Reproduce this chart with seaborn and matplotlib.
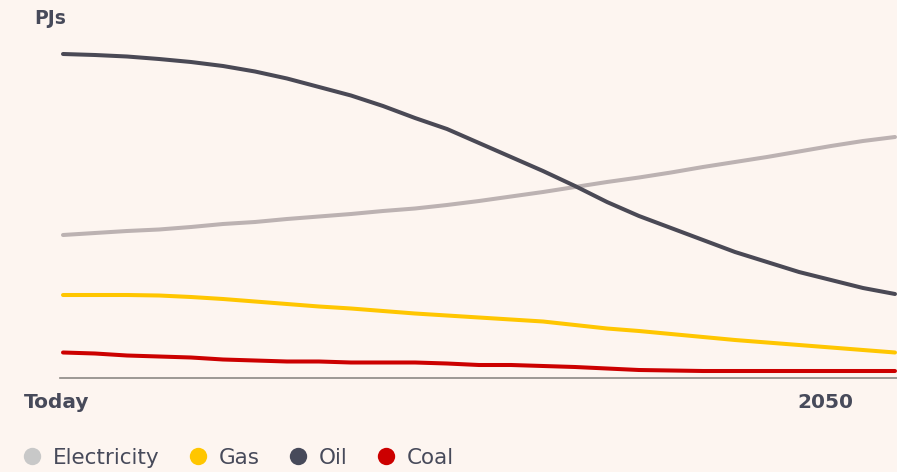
import matplotlib.pyplot as plt
import matplotlib.transforms as mtransforms
from matplotlib.lines import Line2D
import pandas as pd
import seaborn as sns

# years from today (2026) out to just past 2050
years = list(range(2026, 2053))

# energy demand, PJs
electricity = [1430, 1450, 1470, 1485, 1510, 1540, 1560, 1590, 1615, 1640, 1670, 1695, 1730,
               1770, 1815, 1860, 1910, 1960, 2005, 2055, 2110, 2160, 2210, 2265, 2320, 2370, 2410]
gas = [830, 830, 830, 825, 810, 790, 765, 740, 715, 695, 670, 645, 625,
       605, 585, 565, 530, 495, 470, 440, 410, 380, 355, 330, 305, 280, 255]
oil = [3240, 3230, 3215, 3190, 3160, 3120, 3065, 2995, 2910, 2825, 2720, 2600, 2490,
       2350, 2210, 2070, 1920, 1760, 1620, 1500, 1380, 1260, 1160, 1060, 980, 900, 840]
coal = [255, 245, 225, 215, 205, 185, 175, 165, 165, 155, 155, 155, 145,
        130, 130, 120, 110, 95, 80, 75, 70, 70, 70, 70, 70, 70, 70]

series = ["Electricity", "Gas", "Oil", "Coal"]
tick_years = [2026, 2050]
tick_labels = ["Today", "2050"]

line_colors = {"Electricity": "#BCB2B2", "Gas": "#FFC600", "Oil": "#4A4955", "Coal": "#CC0000"}
dot_colors = {"Electricity": "#C8C8C8", "Gas": "#FFC600", "Oil": "#474A5A", "Coal": "#CC0000"}
bg = "#FDF5F0"
text_col = "#474A5A"

df = pd.DataFrame({
    "year": years * 4,
    "PJ": electricity + gas + oil + coal,
    "source": [s for s in series for _ in years],
})

sns.set_theme(style="white")
plt.rcParams["font.family"] = ["DejaVu Sans"]

fig = plt.figure(figsize=(8.97, 4.72), dpi=100, facecolor=bg)
ax = fig.add_axes([60 / 897, 94 / 472, 837 / 897, 348 / 472], facecolor=bg)

sns.lineplot(data=df, x="year", y="PJ", hue="source", hue_order=series,
             palette=line_colors, linewidth=2.9, ax=ax, legend=False)
for ln in ax.get_lines():
    ln.set_solid_capstyle("round")

ax.set_xlim(2026 - 3 / 32, 2052 + 2 / 32)
ax.set_ylim(0, 3480)
ax.set_xlabel("")
ax.set_ylabel("")
ax.set_yticks([])
ax.set_xticks(tick_years)
ax.set_xticklabels(tick_labels, fontsize=14.5, fontweight="bold", color=text_col)
ax.tick_params(axis="x", length=0, pad=11)
shift = mtransforms.ScaledTranslation(-6 / 100, 0, fig.dpi_scale_trans)
for lab in ax.get_xticklabels():
    lab.set_transform(lab.get_transform() + shift)

for side in ["top", "left", "right"]:
    ax.spines[side].set_visible(False)
ax.spines["bottom"].set_color("#8C8884")
ax.spines["bottom"].set_linewidth(1.2)

fig.text(34 / 897, 1 - 18 / 472, "PJs", fontsize=13.5, fontweight="bold",
         color=text_col, va="center", ha="left")

handles = [Line2D([], [], linestyle="none", marker="o", markersize=12.5,
                  markerfacecolor=dot_colors[s], markeredgewidth=0) for s in series]
fig.legend(handles, series, loc="center left", bbox_to_anchor=(12 / 897, 1 - 458 / 472),
           ncol=4, frameon=False, fontsize=15.5, labelcolor=text_col,
           handlelength=0.82, handletextpad=0.56, columnspacing=1.38, borderpad=0)

fig.savefig("out.png", dpi=100, facecolor=bg)
